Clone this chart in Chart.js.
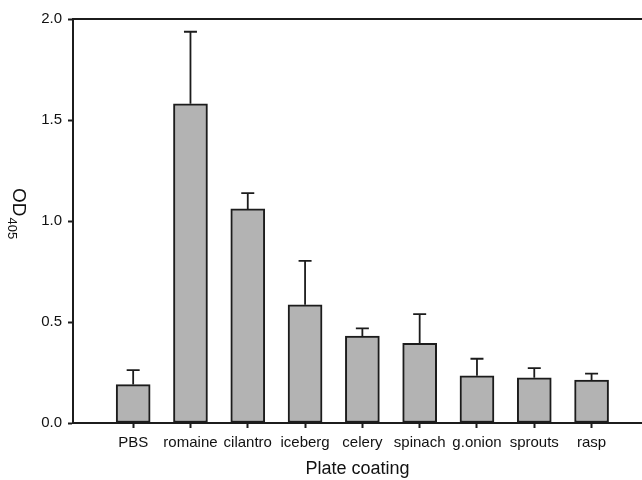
<!DOCTYPE html>
<html lang="en">
<head>
    <meta charset="UTF-8">
    <title>OD405 by plate coating</title>
    <script src="https://cdn.jsdelivr.net/npm/chart.js"></script>
    <style>
        body { margin: 0; background: #fff; }
        canvas { display: block; }
    </style>
</head>
<body>
    <canvas id="grafico" width="642" height="480"></canvas>

<script>
    // dados
    const categorias = ['PBS', 'romaine', 'cilantro', 'iceberg', 'celery', 'spinach', 'g.onion', 'sprouts', 'rasp']
    const medias = [0.19, 1.58, 1.06, 0.585, 0.43, 0.395, 0.234, 0.224, 0.213]
    const erros = [0.072, 0.357, 0.078, 0.218, 0.038, 0.144, 0.084, 0.048, 0.031]
    const ticksY = [0, 0.5, 1.0, 1.5, 2.0]

    const fonte = '"Liberation Sans", Arial, sans-serif'
    const corEixo = '#1c1c1c'

    // barras de erro (so para cima) e moldura de cima
    const extras = {
        id: 'extras',
        afterDatasetsDraw(chart) {
            const ctx = chart.ctx
            const x = chart.scales.x
            const y = chart.scales.y
            ctx.save()
            ctx.strokeStyle = corEixo
            ctx.lineWidth = 1.8
            medias.forEach(function (m, i) {
                const px = x.getPixelForValue(i + 1)
                const y0 = y.getPixelForValue(m)
                const y1 = y.getPixelForValue(m + erros[i])
                ctx.beginPath()
                ctx.moveTo(px, y0)
                ctx.lineTo(px, y1)
                ctx.moveTo(px - 6.5, y1)
                ctx.lineTo(px + 6.5, y1)
                ctx.stroke()
            })
            ctx.restore()
        },
        afterDraw(chart) {
            const ctx = chart.ctx
            const area = chart.chartArea
            ctx.save()
            ctx.strokeStyle = corEixo
            ctx.lineWidth = 2
            ctx.beginPath()
            ctx.moveTo(area.left, area.top)
            ctx.lineTo(chart.width, area.top)
            ctx.stroke()

            // titulo do eixo y: OD com 405 subscrito
            ctx.translate(20, 188)
            ctx.rotate(Math.PI / 2)
            ctx.fillStyle = '#111'
            ctx.textBaseline = 'alphabetic'
            ctx.font = '19px ' + fonte
            ctx.fillText('OD', 0, 7)
            const w = ctx.measureText('OD').width
            ctx.font = '13px ' + fonte
            ctx.fillText('405', w + 1, 12)
            ctx.restore()
        }
    }

    const config = {
        type: 'bar',
        data: {
            datasets: [{
                data: medias.map(function (v, i) { return { x: i + 1, y: v } }),
                backgroundColor: '#b3b3b3',
                borderColor: corEixo,
                borderWidth: 2,
                borderSkipped: false,
                barThickness: 34
            }]
        },
        options: {
            responsive: false,
            animation: false,
            layout: { padding: { top: 19, right: 0, left: 0, bottom: 0 } },
            plugins: {
                legend: { display: false },
                tooltip: { enabled: false }
            },
            scales: {
                x: {
                    type: 'linear',
                    min: -0.05,
                    max: 9.88,
                    offset: false,
                    afterBuildTicks: function (scale) {
                        scale.ticks = categorias.map(function (c, i) { return { value: i + 1 } })
                    },
                    afterFit: function (scale) { scale.height = 57 },
                    ticks: {
                        autoSkip: false,
                        maxRotation: 0,
                        padding: 6,
                        color: '#111',
                        font: { family: fonte, size: 15 },
                        callback: function (v) { return categorias[v - 1] || '' }
                    },
                    grid: {
                        offset: false,
                        drawOnChartArea: false,
                        tickLength: 5,
                        tickColor: corEixo,
                        tickWidth: 2
                    },
                    border: { color: corEixo, width: 2 },
                    title: {
                        display: true,
                        text: 'Plate coating',
                        color: '#111',
                        font: { family: fonte, size: 18 },
                        padding: { top: 0, bottom: 0 }
                    }
                },
                y: {
                    min: 0,
                    max: 2,
                    afterBuildTicks: function (scale) {
                        scale.ticks = ticksY.map(function (v) { return { value: v } })
                    },
                    afterFit: function (scale) { scale.width = 73 },
                    ticks: {
                        padding: 6,
                        color: '#111',
                        font: { family: fonte, size: 15 },
                        callback: function (v) { return v.toFixed(1) }
                    },
                    grid: {
                        drawOnChartArea: false,
                        tickLength: 5,
                        tickColor: corEixo,
                        tickWidth: 2
                    },
                    border: { color: corEixo, width: 2 }
                }
            }
        },
        plugins: [extras]
    }

    new Chart(document.getElementById('grafico'), config)
</script>
</body>
</html>
